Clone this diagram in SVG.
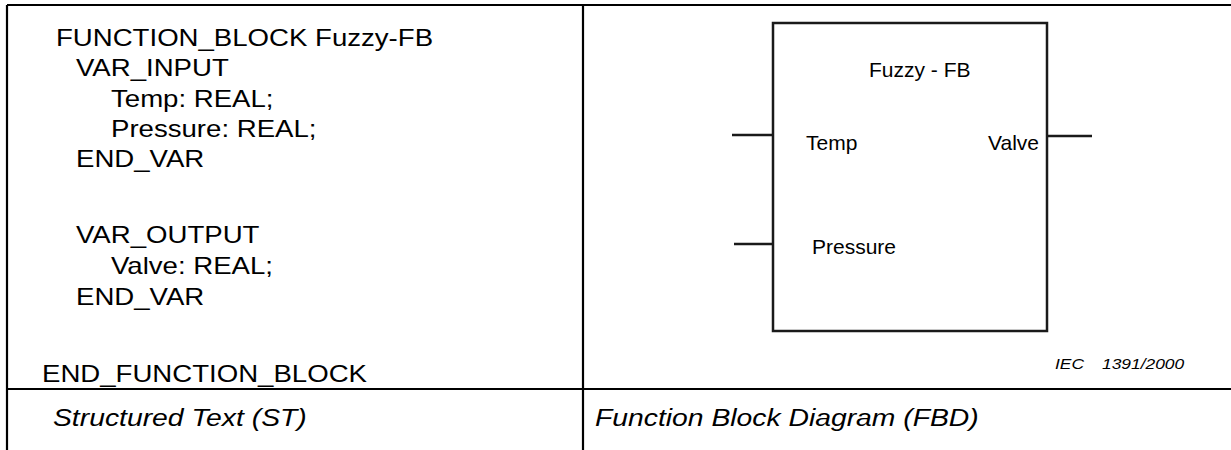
<svg xmlns="http://www.w3.org/2000/svg" width="1231" height="450" viewBox="0 0 1231 450">
  <style>
    .rule { stroke: #000; stroke-width: 2.2; fill: none; }
    .blk { stroke: #1a1a1a; stroke-width: 2.5; fill: #fff; }
    .pinline { stroke: #1a1a1a; stroke-width: 2.5; }
    .code { font-family: "Liberation Sans", Arial, sans-serif; font-size: 23px; fill: #000; }
    .cap { font-family: "Liberation Sans", Arial, sans-serif; font-size: 23.6px; font-style: italic; fill: #000; }
    .pin { font-family: "Liberation Sans", Arial, sans-serif; font-size: 21px; fill: #000; }
    .ref { font-family: "Liberation Sans", Arial, sans-serif; font-size: 14.5px; font-style: italic; fill: #000; }
  </style>

  <rect width="1231" height="450" fill="#fff"/>

  <!-- table rules -->
  <g id="table">
    <line class="rule" x1="7" y1="5" x2="1231" y2="5"/>
    <line class="rule" x1="7" y1="5" x2="7" y2="450"/>
    <line class="rule" x1="583" y1="5" x2="583" y2="450"/>
    <line class="rule" x1="7" y1="389" x2="1231" y2="389"/>
  </g>

  <!-- structured text listing -->
  <g id="st-listing">
    <text class="code" transform="translate(56,46) scale(1.2,1)">FUNCTION_BLOCK Fuzzy-FB</text>
    <text class="code" transform="translate(76,76) scale(1.2,1)">VAR_INPUT</text>
    <text class="code" transform="translate(111,107) scale(1.2,1)">Temp: REAL;</text>
    <text class="code" transform="translate(111,137) scale(1.2,1)">Pressure: REAL;</text>
    <text class="code" transform="translate(76,167) scale(1.2,1)">END_VAR</text>
    <text class="code" transform="translate(76,243) scale(1.2,1)">VAR_OUTPUT</text>
    <text class="code" transform="translate(111,274) scale(1.2,1)">Valve: REAL;</text>
    <text class="code" transform="translate(76,305) scale(1.2,1)">END_VAR</text>
    <text class="code" transform="translate(42,382) scale(1.2,1)">END_FUNCTION_BLOCK</text>
  </g>

  <!-- connectors: block pins -->
  <g id="connectors">
    <line class="pinline" x1="732" y1="135" x2="773" y2="135"/>
    <line class="pinline" x1="734" y1="244" x2="773" y2="244"/>
    <line class="pinline" x1="1047" y1="136" x2="1092" y2="136"/>
  </g>

  <!-- function block -->
  <g id="fuzzy-fb">
    <rect class="blk" x="773" y="23" width="274" height="308"/>
    <text class="pin" x="869" y="77">Fuzzy - FB</text>
    <text class="pin" x="806" y="150">Temp</text>
    <text class="pin" x="812" y="254">Pressure</text>
    <text class="pin" x="1039" y="150" text-anchor="end">Valve</text>
  </g>

  <g id="figure-ref">
    <text class="ref" transform="translate(1055,369) scale(1.2,1)">IEC</text>
    <text class="ref" transform="translate(1102,369) scale(1.2,1)">1391/2000</text>
  </g>

  <!-- column captions -->
  <g id="captions">
    <text class="cap" transform="translate(53,426) scale(1.2,1)">Structured Text (ST)</text>
    <text class="cap" transform="translate(595,426) scale(1.2,1)">Function Block Diagram (FBD)</text>
  </g>
</svg>
